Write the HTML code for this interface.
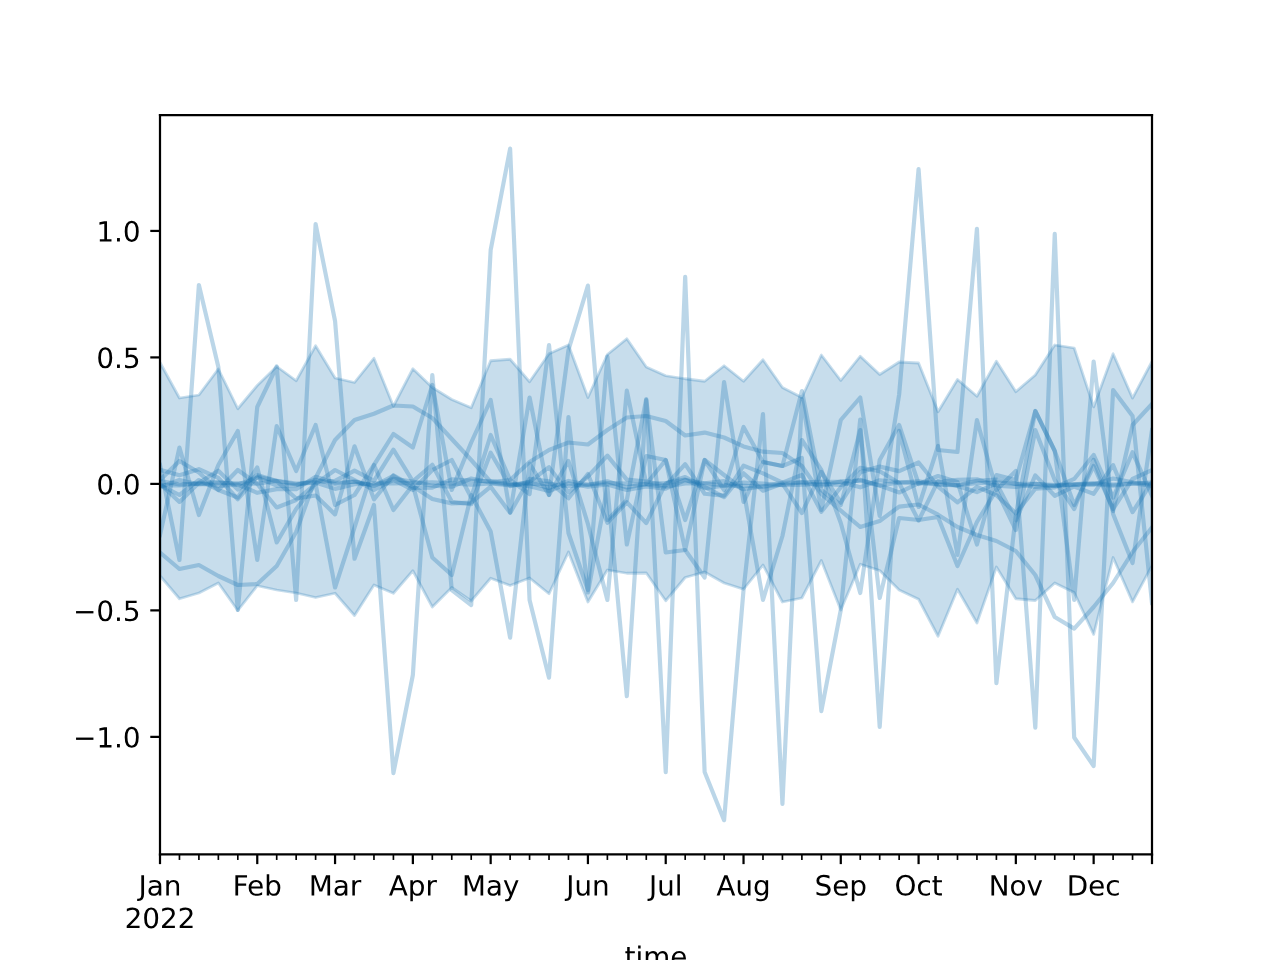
<!DOCTYPE html>
<html><head><meta charset="utf-8"><style>html,body{margin:0;padding:0;background:#fff;width:1280px;height:960px;overflow:hidden;font-family:"Liberation Sans",sans-serif}svg{display:block}</style></head><body>
<svg width="1280" height="960" viewBox="0 0 460.8 345.6" version="1.1">
 
 <defs>
  <style type="text/css">*{stroke-linejoin: round; stroke-linecap: butt}</style>
 </defs>
 <g id="figure_1">
  <g id="patch_1">
   <path d="M 0 345.6 
L 460.8 345.6 
L 460.8 0 
L 0 0 
z
" style="fill: #ffffff"/>
  </g>
  <g id="axes_1">
   <g id="patch_2">
    <path d="M 57.6 307.584 
L 414.72 307.584 
L 414.72 41.472 
L 57.6 41.472 
z
" style="fill: #ffffff"/>
   </g>
   <g id="FillBetweenPolyCollection_1">
    <defs>
     <path id="me07faa9266" d="M 57.6 -215.1 
L 57.6 -138.33 
L 64.602353 -130.05 
L 71.604706 -132.12 
L 78.607059 -135.72 
L 85.609412 -125.82 
L 92.611765 -134.73 
L 99.614118 -133.2 
L 106.616471 -132.12 
L 113.618824 -130.5 
L 120.621176 -132.03 
L 127.623529 -124.02 
L 134.625882 -135 
L 141.628235 -132.03 
L 148.630588 -140.13 
L 155.632941 -127.08 
L 162.635294 -134.1 
L 169.637647 -129.24 
L 176.64 -137.43 
L 183.642353 -134.82 
L 190.644706 -137.52 
L 197.647059 -131.85 
L 204.649412 -146.88 
L 211.651765 -128.88 
L 218.654118 -140.4 
L 225.656471 -139.23 
L 232.658824 -139.32 
L 239.661176 -129.33 
L 246.663529 -137.7 
L 253.665882 -139.68 
L 260.668235 -135.72 
L 267.670588 -133.47 
L 274.672941 -142.2 
L 281.675294 -128.88 
L 288.677647 -130.32 
L 295.68 -143.82 
L 302.682353 -126 
L 309.684706 -142.47 
L 316.687059 -140.22 
L 323.689412 -133.2 
L 330.691765 -129.87 
L 337.694118 -116.55 
L 344.696471 -133.47 
L 351.698824 -121.32 
L 358.701176 -141.48 
L 365.703529 -130.05 
L 372.705882 -129.42 
L 379.708235 -135.72 
L 386.710588 -132.3 
L 393.712941 -117.216 
L 400.715294 -144.9 
L 407.717647 -128.916 
L 414.72 -141.984 
L 414.72 -215.46 
L 414.72 -215.46 
L 407.717647 -202.284 
L 400.715294 -218.25 
L 393.712941 -199.116 
L 386.710588 -220.32 
L 379.708235 -221.4 
L 372.705882 -210.6 
L 365.703529 -204.552 
L 358.701176 -215.55 
L 351.698824 -202.95 
L 344.696471 -208.98 
L 337.694118 -197.37 
L 330.691765 -214.92 
L 323.689412 -215.28 
L 316.687059 -210.78 
L 309.684706 -217.35 
L 302.682353 -208.62 
L 295.68 -217.8 
L 288.677647 -202.5 
L 281.675294 -206.1 
L 274.672941 -216.09 
L 267.670588 -208.35 
L 260.668235 -213.93 
L 253.665882 -208.35 
L 246.663529 -209.25 
L 239.661176 -210.33 
L 232.658824 -213.48 
L 225.656471 -223.65 
L 218.654118 -217.98 
L 211.651765 -202.5 
L 204.649412 -221.4 
L 197.647059 -218.25 
L 190.644706 -208.17 
L 183.642353 -216.27 
L 176.64 -215.73 
L 169.637647 -198.81 
L 162.635294 -201.78 
L 155.632941 -206.1 
L 148.630588 -212.85 
L 141.628235 -199.35 
L 134.625882 -216.63 
L 127.623529 -207.9 
L 120.621176 -209.52 
L 113.618824 -221.13 
L 106.616471 -208.53 
L 99.614118 -213.66 
L 92.611765 -206.82 
L 85.609412 -198.45 
L 78.607059 -212.76 
L 71.604706 -203.4 
L 64.602353 -202.32 
L 57.6 -215.1 
z
" style="stroke: #1f77b4; stroke-opacity: 0.25"/>
    </defs>
    <g clip-path="url(#pd8968b9efc)">
     <use href="#me07faa9266" x="0" y="345.6" style="fill: #1f77b4; fill-opacity: 0.25; stroke: #1f77b4; stroke-opacity: 0.25"/>
    </g>
   </g>
   <g id="matplotlib.axis_1">
    <g id="xtick_1">
     <g id="line2d_1">
      <defs>
       <path id="mba14ccbb5c" d="M 0 0 
L 0 3.5 
" style="stroke: #000000; stroke-width: 0.8"/>
      </defs>
      <g>
       <use href="#mba14ccbb5c" x="57.6" y="307.584" style="stroke: #000000; stroke-width: 0.8"/>
      </g>
     </g>
     <g id="text_1">
      <!-- Jan -->
      <g transform="translate(49.892187 322.362437) scale(0.1 -0.1)">
       <defs>
        <path id="DejaVuSans-4a" d="M 628 4666 
L 1259 4666 
L 1259 325 
Q 1259 -519 939 -900 
Q 619 -1281 -91 -1281 
L -331 -1281 
L -331 -750 
L -134 -750 
Q 284 -750 456 -515 
Q 628 -281 628 325 
L 628 4666 
z
" transform="scale(0.015625)"/>
        <path id="DejaVuSans-61" d="M 2194 1759 
Q 1497 1759 1228 1600 
Q 959 1441 959 1056 
Q 959 750 1161 570 
Q 1363 391 1709 391 
Q 2188 391 2477 730 
Q 2766 1069 2766 1631 
L 2766 1759 
L 2194 1759 
z
M 3341 1997 
L 3341 0 
L 2766 0 
L 2766 531 
Q 2569 213 2275 61 
Q 1981 -91 1556 -91 
Q 1019 -91 701 211 
Q 384 513 384 1019 
Q 384 1609 779 1909 
Q 1175 2209 1959 2209 
L 2766 2209 
L 2766 2266 
Q 2766 2663 2505 2880 
Q 2244 3097 1772 3097 
Q 1472 3097 1187 3025 
Q 903 2953 641 2809 
L 641 3341 
Q 956 3463 1253 3523 
Q 1550 3584 1831 3584 
Q 2591 3584 2966 3190 
Q 3341 2797 3341 1997 
z
" transform="scale(0.015625)"/>
        <path id="DejaVuSans-6e" d="M 3513 2113 
L 3513 0 
L 2938 0 
L 2938 2094 
Q 2938 2591 2744 2837 
Q 2550 3084 2163 3084 
Q 1697 3084 1428 2787 
Q 1159 2491 1159 1978 
L 1159 0 
L 581 0 
L 581 3500 
L 1159 3500 
L 1159 2956 
Q 1366 3272 1645 3428 
Q 1925 3584 2291 3584 
Q 2894 3584 3203 3211 
Q 3513 2838 3513 2113 
z
" transform="scale(0.015625)"/>
       </defs>
       <use href="#DejaVuSans-4a"/>
       <use href="#DejaVuSans-61" transform="translate(29.492188 0)"/>
       <use href="#DejaVuSans-6e" transform="translate(90.771484 0)"/>
      </g>
      <!-- 2022 -->
      <g transform="translate(44.875 334.100250) scale(0.1 -0.1)">
       <defs>
        <path id="DejaVuSans-32" d="M 1228 531 
L 3431 531 
L 3431 0 
L 469 0 
L 469 531 
Q 828 903 1448 1529 
Q 2069 2156 2228 2338 
Q 2531 2678 2651 2914 
Q 2772 3150 2772 3378 
Q 2772 3750 2511 3984 
Q 2250 4219 1831 4219 
Q 1534 4219 1204 4116 
Q 875 4013 500 3803 
L 500 4441 
Q 881 4594 1212 4672 
Q 1544 4750 1819 4750 
Q 2544 4750 2975 4387 
Q 3406 4025 3406 3419 
Q 3406 3131 3298 2873 
Q 3191 2616 2906 2266 
Q 2828 2175 2409 1742 
Q 1991 1309 1228 531 
z
" transform="scale(0.015625)"/>
        <path id="DejaVuSans-30" d="M 2034 4250 
Q 1547 4250 1301 3770 
Q 1056 3291 1056 2328 
Q 1056 1369 1301 889 
Q 1547 409 2034 409 
Q 2525 409 2770 889 
Q 3016 1369 3016 2328 
Q 3016 3291 2770 3770 
Q 2525 4250 2034 4250 
z
M 2034 4750 
Q 2819 4750 3233 4129 
Q 3647 3509 3647 2328 
Q 3647 1150 3233 529 
Q 2819 -91 2034 -91 
Q 1250 -91 836 529 
Q 422 1150 422 2328 
Q 422 3509 836 4129 
Q 1250 4750 2034 4750 
z
" transform="scale(0.015625)"/>
       </defs>
       <use href="#DejaVuSans-32"/>
       <use href="#DejaVuSans-30" transform="translate(63.623047 0)"/>
       <use href="#DejaVuSans-32" transform="translate(127.246094 0)"/>
       <use href="#DejaVuSans-32" transform="translate(190.869141 0)"/>
      </g>
     </g>
    </g>
    <g id="xtick_2">
     <g id="line2d_2">
      <g>
       <use href="#mba14ccbb5c" x="92.611765" y="307.584" style="stroke: #000000; stroke-width: 0.8"/>
      </g>
     </g>
     <g id="text_2">
      <!-- Feb -->
      <g transform="translate(83.760202 322.362437) scale(0.1 -0.1)">
       <defs>
        <path id="DejaVuSans-46" d="M 628 4666 
L 3309 4666 
L 3309 4134 
L 1259 4134 
L 1259 2759 
L 3109 2759 
L 3109 2228 
L 1259 2228 
L 1259 0 
L 628 0 
L 628 4666 
z
" transform="scale(0.015625)"/>
        <path id="DejaVuSans-65" d="M 3597 1894 
L 3597 1613 
L 953 1613 
Q 991 1019 1311 708 
Q 1631 397 2203 397 
Q 2534 397 2845 478 
Q 3156 559 3463 722 
L 3463 178 
Q 3153 47 2828 -22 
Q 2503 -91 2169 -91 
Q 1331 -91 842 396 
Q 353 884 353 1716 
Q 353 2575 817 3079 
Q 1281 3584 2069 3584 
Q 2775 3584 3186 3129 
Q 3597 2675 3597 1894 
z
M 3022 2063 
Q 3016 2534 2758 2815 
Q 2500 3097 2075 3097 
Q 1594 3097 1305 2825 
Q 1016 2553 972 2059 
L 3022 2063 
z
" transform="scale(0.015625)"/>
        <path id="DejaVuSans-62" d="M 3116 1747 
Q 3116 2381 2855 2742 
Q 2594 3103 2138 3103 
Q 1681 3103 1420 2742 
Q 1159 2381 1159 1747 
Q 1159 1113 1420 752 
Q 1681 391 2138 391 
Q 2594 391 2855 752 
Q 3116 1113 3116 1747 
z
M 1159 2969 
Q 1341 3281 1617 3432 
Q 1894 3584 2278 3584 
Q 2916 3584 3314 3078 
Q 3713 2572 3713 1747 
Q 3713 922 3314 415 
Q 2916 -91 2278 -91 
Q 1894 -91 1617 61 
Q 1341 213 1159 525 
L 1159 0 
L 581 0 
L 581 4863 
L 1159 4863 
L 1159 2969 
z
" transform="scale(0.015625)"/>
       </defs>
       <use href="#DejaVuSans-46"/>
       <use href="#DejaVuSans-65" transform="translate(52.019531 0)"/>
       <use href="#DejaVuSans-62" transform="translate(113.542969 0)"/>
      </g>
     </g>
    </g>
    <g id="xtick_3">
     <g id="line2d_3">
      <g>
       <use href="#mba14ccbb5c" x="120.621176" y="307.584" style="stroke: #000000; stroke-width: 0.8"/>
      </g>
     </g>
     <g id="text_3">
      <!-- Mar -->
      <g transform="translate(111.187583 322.362437) scale(0.1 -0.1)">
       <defs>
        <path id="DejaVuSans-4d" d="M 628 4666 
L 1569 4666 
L 2759 1491 
L 3956 4666 
L 4897 4666 
L 4897 0 
L 4281 0 
L 4281 4097 
L 3078 897 
L 2444 897 
L 1241 4097 
L 1241 0 
L 628 0 
L 628 4666 
z
" transform="scale(0.015625)"/>
        <path id="DejaVuSans-72" d="M 2631 2963 
Q 2534 3019 2420 3045 
Q 2306 3072 2169 3072 
Q 1681 3072 1420 2755 
Q 1159 2438 1159 1844 
L 1159 0 
L 581 0 
L 581 3500 
L 1159 3500 
L 1159 2956 
Q 1341 3275 1631 3429 
Q 1922 3584 2338 3584 
Q 2397 3584 2469 3576 
Q 2541 3569 2628 3553 
L 2631 2963 
z
" transform="scale(0.015625)"/>
       </defs>
       <use href="#DejaVuSans-4d"/>
       <use href="#DejaVuSans-61" transform="translate(86.279297 0)"/>
       <use href="#DejaVuSans-72" transform="translate(147.558594 0)"/>
      </g>
     </g>
    </g>
    <g id="xtick_4">
     <g id="line2d_4">
      <g>
       <use href="#mba14ccbb5c" x="148.630588" y="307.584" style="stroke: #000000; stroke-width: 0.8"/>
      </g>
     </g>
     <g id="text_4">
      <!-- Apr -->
      <g transform="translate(139.980588 322.362437) scale(0.1 -0.1)">
       <defs>
        <path id="DejaVuSans-41" d="M 2188 4044 
L 1331 1722 
L 3047 1722 
L 2188 4044 
z
M 1831 4666 
L 2547 4666 
L 4325 0 
L 3669 0 
L 3244 1197 
L 1141 1197 
L 716 0 
L 50 0 
L 1831 4666 
z
" transform="scale(0.015625)"/>
        <path id="DejaVuSans-70" d="M 1159 525 
L 1159 -1331 
L 581 -1331 
L 581 3500 
L 1159 3500 
L 1159 2969 
Q 1341 3281 1617 3432 
Q 1894 3584 2278 3584 
Q 2916 3584 3314 3078 
Q 3713 2572 3713 1747 
Q 3713 922 3314 415 
Q 2916 -91 2278 -91 
Q 1894 -91 1617 61 
Q 1341 213 1159 525 
z
M 3116 1747 
Q 3116 2381 2855 2742 
Q 2594 3103 2138 3103 
Q 1681 3103 1420 2742 
Q 1159 2381 1159 1747 
Q 1159 1113 1420 752 
Q 1681 391 2138 391 
Q 2594 391 2855 752 
Q 3116 1113 3116 1747 
z
" transform="scale(0.015625)"/>
       </defs>
       <use href="#DejaVuSans-41"/>
       <use href="#DejaVuSans-70" transform="translate(68.408203 0)"/>
       <use href="#DejaVuSans-72" transform="translate(131.884766 0)"/>
      </g>
     </g>
    </g>
    <g id="xtick_5">
     <g id="line2d_5">
      <g>
       <use href="#mba14ccbb5c" x="176.64" y="307.584" style="stroke: #000000; stroke-width: 0.8"/>
      </g>
     </g>
     <g id="text_5">
      <!-- May -->
      <g transform="translate(166.3025 322.362437) scale(0.1 -0.1)">
       <defs>
        <path id="DejaVuSans-79" d="M 2059 -325 
Q 1816 -950 1584 -1140 
Q 1353 -1331 966 -1331 
L 506 -1331 
L 506 -850 
L 844 -850 
Q 1081 -850 1212 -737 
Q 1344 -625 1503 -206 
L 1606 56 
L 191 3500 
L 800 3500 
L 1894 763 
L 2988 3500 
L 3597 3500 
L 2059 -325 
z
" transform="scale(0.015625)"/>
       </defs>
       <use href="#DejaVuSans-4d"/>
       <use href="#DejaVuSans-61" transform="translate(86.279297 0)"/>
       <use href="#DejaVuSans-79" transform="translate(147.558594 0)"/>
      </g>
     </g>
    </g>
    <g id="xtick_6">
     <g id="line2d_6">
      <g>
       <use href="#mba14ccbb5c" x="211.651765" y="307.584" style="stroke: #000000; stroke-width: 0.8"/>
      </g>
     </g>
     <g id="text_6">
      <!-- Jun -->
      <g transform="translate(203.839265 322.362437) scale(0.1 -0.1)">
       <defs>
        <path id="DejaVuSans-75" d="M 544 1381 
L 544 3500 
L 1119 3500 
L 1119 1403 
Q 1119 906 1312 657 
Q 1506 409 1894 409 
Q 2359 409 2629 706 
Q 2900 1003 2900 1516 
L 2900 3500 
L 3475 3500 
L 3475 0 
L 2900 0 
L 2900 538 
Q 2691 219 2414 64 
Q 2138 -91 1772 -91 
Q 1169 -91 856 284 
Q 544 659 544 1381 
z
M 1991 3584 
L 1991 3584 
z
" transform="scale(0.015625)"/>
       </defs>
       <use href="#DejaVuSans-4a"/>
       <use href="#DejaVuSans-75" transform="translate(29.492188 0)"/>
       <use href="#DejaVuSans-6e" transform="translate(92.871094 0)"/>
      </g>
     </g>
    </g>
    <g id="xtick_7">
     <g id="line2d_7">
      <g>
       <use href="#mba14ccbb5c" x="239.661176" y="307.584" style="stroke: #000000; stroke-width: 0.8"/>
      </g>
     </g>
     <g id="text_7">
      <!-- Jul -->
      <g transform="translate(233.628364 322.362437) scale(0.1 -0.1)">
       <defs>
        <path id="DejaVuSans-6c" d="M 603 4863 
L 1178 4863 
L 1178 0 
L 603 0 
L 603 4863 
z
" transform="scale(0.015625)"/>
       </defs>
       <use href="#DejaVuSans-4a"/>
       <use href="#DejaVuSans-75" transform="translate(29.492188 0)"/>
       <use href="#DejaVuSans-6c" transform="translate(92.871094 0)"/>
      </g>
     </g>
    </g>
    <g id="xtick_8">
     <g id="line2d_8">
      <g>
       <use href="#mba14ccbb5c" x="267.670588" y="307.584" style="stroke: #000000; stroke-width: 0.8"/>
      </g>
     </g>
     <g id="text_8">
      <!-- Aug -->
      <g transform="translate(257.907307 322.362437) scale(0.1 -0.1)">
       <defs>
        <path id="DejaVuSans-67" d="M 2906 1791 
Q 2906 2416 2648 2759 
Q 2391 3103 1925 3103 
Q 1463 3103 1205 2759 
Q 947 2416 947 1791 
Q 947 1169 1205 825 
Q 1463 481 1925 481 
Q 2391 481 2648 825 
Q 2906 1169 2906 1791 
z
M 3481 434 
Q 3481 -459 3084 -895 
Q 2688 -1331 1869 -1331 
Q 1566 -1331 1297 -1286 
Q 1028 -1241 775 -1147 
L 775 -588 
Q 1028 -725 1275 -790 
Q 1522 -856 1778 -856 
Q 2344 -856 2625 -561 
Q 2906 -266 2906 331 
L 2906 616 
Q 2728 306 2450 153 
Q 2172 0 1784 0 
Q 1141 0 747 490 
Q 353 981 353 1791 
Q 353 2603 747 3093 
Q 1141 3584 1784 3584 
Q 2172 3584 2450 3431 
Q 2728 3278 2906 2969 
L 2906 3500 
L 3481 3500 
L 3481 434 
z
" transform="scale(0.015625)"/>
       </defs>
       <use href="#DejaVuSans-41"/>
       <use href="#DejaVuSans-75" transform="translate(68.408203 0)"/>
       <use href="#DejaVuSans-67" transform="translate(131.787109 0)"/>
      </g>
     </g>
    </g>
    <g id="xtick_9">
     <g id="line2d_9">
      <g>
       <use href="#mba14ccbb5c" x="302.682353" y="307.584" style="stroke: #000000; stroke-width: 0.8"/>
      </g>
     </g>
     <g id="text_9">
      <!-- Sep -->
      <g transform="translate(293.257353 322.362437) scale(0.1 -0.1)">
       <defs>
        <path id="DejaVuSans-53" d="M 3425 4513 
L 3425 3897 
Q 3066 4069 2747 4153 
Q 2428 4238 2131 4238 
Q 1616 4238 1336 4038 
Q 1056 3838 1056 3469 
Q 1056 3159 1242 3001 
Q 1428 2844 1947 2747 
L 2328 2669 
Q 3034 2534 3370 2195 
Q 3706 1856 3706 1288 
Q 3706 609 3251 259 
Q 2797 -91 1919 -91 
Q 1588 -91 1214 -16 
Q 841 59 441 206 
L 441 856 
Q 825 641 1194 531 
Q 1563 422 1919 422 
Q 2459 422 2753 634 
Q 3047 847 3047 1241 
Q 3047 1584 2836 1778 
Q 2625 1972 2144 2069 
L 1759 2144 
Q 1053 2284 737 2584 
Q 422 2884 422 3419 
Q 422 4038 858 4394 
Q 1294 4750 2059 4750 
Q 2388 4750 2728 4690 
Q 3069 4631 3425 4513 
z
" transform="scale(0.015625)"/>
       </defs>
       <use href="#DejaVuSans-53"/>
       <use href="#DejaVuSans-65" transform="translate(63.476562 0)"/>
       <use href="#DejaVuSans-70" transform="translate(125 0)"/>
      </g>
     </g>
    </g>
    <g id="xtick_10">
     <g id="line2d_10">
      <g>
       <use href="#mba14ccbb5c" x="330.691765" y="307.584" style="stroke: #000000; stroke-width: 0.8"/>
      </g>
     </g>
     <g id="text_10">
      <!-- Oct -->
      <g transform="translate(322.046452 322.362437) scale(0.1 -0.1)">
       <defs>
        <path id="DejaVuSans-4f" d="M 2522 4238 
Q 1834 4238 1429 3725 
Q 1025 3213 1025 2328 
Q 1025 1447 1429 934 
Q 1834 422 2522 422 
Q 3209 422 3611 934 
Q 4013 1447 4013 2328 
Q 4013 3213 3611 3725 
Q 3209 4238 2522 4238 
z
M 2522 4750 
Q 3503 4750 4090 4092 
Q 4678 3434 4678 2328 
Q 4678 1225 4090 567 
Q 3503 -91 2522 -91 
Q 1538 -91 948 565 
Q 359 1222 359 2328 
Q 359 3434 948 4092 
Q 1538 4750 2522 4750 
z
" transform="scale(0.015625)"/>
        <path id="DejaVuSans-63" d="M 3122 3366 
L 3122 2828 
Q 2878 2963 2633 3030 
Q 2388 3097 2138 3097 
Q 1578 3097 1268 2742 
Q 959 2388 959 1747 
Q 959 1106 1268 751 
Q 1578 397 2138 397 
Q 2388 397 2633 464 
Q 2878 531 3122 666 
L 3122 134 
Q 2881 22 2623 -34 
Q 2366 -91 2075 -91 
Q 1284 -91 818 406 
Q 353 903 353 1747 
Q 353 2603 823 3093 
Q 1294 3584 2113 3584 
Q 2378 3584 2631 3529 
Q 2884 3475 3122 3366 
z
" transform="scale(0.015625)"/>
        <path id="DejaVuSans-74" d="M 1172 4494 
L 1172 3500 
L 2356 3500 
L 2356 3053 
L 1172 3053 
L 1172 1153 
Q 1172 725 1289 603 
Q 1406 481 1766 481 
L 2356 481 
L 2356 0 
L 1766 0 
Q 1100 0 847 248 
Q 594 497 594 1153 
L 594 3053 
L 172 3053 
L 172 3500 
L 594 3500 
L 594 4494 
L 1172 4494 
z
" transform="scale(0.015625)"/>
       </defs>
       <use href="#DejaVuSans-4f"/>
       <use href="#DejaVuSans-63" transform="translate(78.710938 0)"/>
       <use href="#DejaVuSans-74" transform="translate(133.691406 0)"/>
      </g>
     </g>
    </g>
    <g id="xtick_11">
     <g id="line2d_11">
      <g>
       <use href="#mba14ccbb5c" x="365.703529" y="307.584" style="stroke: #000000; stroke-width: 0.8"/>
      </g>
     </g>
     <g id="text_11">
      <!-- Nov -->
      <g transform="translate(355.944154 322.362437) scale(0.1 -0.1)">
       <defs>
        <path id="DejaVuSans-4e" d="M 628 4666 
L 1478 4666 
L 3547 763 
L 3547 4666 
L 4159 4666 
L 4159 0 
L 3309 0 
L 1241 3903 
L 1241 0 
L 628 0 
L 628 4666 
z
" transform="scale(0.015625)"/>
        <path id="DejaVuSans-6f" d="M 1959 3097 
Q 1497 3097 1228 2736 
Q 959 2375 959 1747 
Q 959 1119 1226 758 
Q 1494 397 1959 397 
Q 2419 397 2687 759 
Q 2956 1122 2956 1747 
Q 2956 2369 2687 2733 
Q 2419 3097 1959 3097 
z
M 1959 3584 
Q 2709 3584 3137 3096 
Q 3566 2609 3566 1747 
Q 3566 888 3137 398 
Q 2709 -91 1959 -91 
Q 1206 -91 779 398 
Q 353 888 353 1747 
Q 353 2609 779 3096 
Q 1206 3584 1959 3584 
z
" transform="scale(0.015625)"/>
        <path id="DejaVuSans-76" d="M 191 3500 
L 800 3500 
L 1894 563 
L 2988 3500 
L 3597 3500 
L 2284 0 
L 1503 0 
L 191 3500 
z
" transform="scale(0.015625)"/>
       </defs>
       <use href="#DejaVuSans-4e"/>
       <use href="#DejaVuSans-6f" transform="translate(74.804688 0)"/>
       <use href="#DejaVuSans-76" transform="translate(135.986328 0)"/>
      </g>
     </g>
    </g>
    <g id="xtick_12">
     <g id="line2d_12">
      <g>
       <use href="#mba14ccbb5c" x="393.712941" y="307.584" style="stroke: #000000; stroke-width: 0.8"/>
      </g>
     </g>
     <g id="text_12">
      <!-- Dec -->
      <g transform="translate(384.03716 322.362437) scale(0.1 -0.1)">
       <defs>
        <path id="DejaVuSans-44" d="M 1259 4147 
L 1259 519 
L 2022 519 
Q 2988 519 3436 956 
Q 3884 1394 3884 2338 
Q 3884 3275 3436 3711 
Q 2988 4147 2022 4147 
L 1259 4147 
z
M 628 4666 
L 1925 4666 
Q 3281 4666 3915 4102 
Q 4550 3538 4550 2338 
Q 4550 1131 3912 565 
Q 3275 0 1925 0 
L 628 0 
L 628 4666 
z
" transform="scale(0.015625)"/>
       </defs>
       <use href="#DejaVuSans-44"/>
       <use href="#DejaVuSans-65" transform="translate(77.001953 0)"/>
       <use href="#DejaVuSans-63" transform="translate(138.525391 0)"/>
      </g>
     </g>
    </g>
    <g id="xtick_13">
     <g id="line2d_13">
      <g>
       <use href="#mba14ccbb5c" x="414.72" y="307.584" style="stroke: #000000; stroke-width: 0.8"/>
      </g>
     </g>
    </g>
    <g id="xtick_14">
     <g id="line2d_14">
      <defs>
       <path id="me7f62219b8" d="M 0 0 
L 0 2 
" style="stroke: #000000; stroke-width: 0.6"/>
      </defs>
      <g>
       <use href="#me7f62219b8" x="64.602353" y="307.584" style="stroke: #000000; stroke-width: 0.6"/>
      </g>
     </g>
    </g>
    <g id="xtick_15">
     <g id="line2d_15">
      <g>
       <use href="#me7f62219b8" x="71.604706" y="307.584" style="stroke: #000000; stroke-width: 0.6"/>
      </g>
     </g>
    </g>
    <g id="xtick_16">
     <g id="line2d_16">
      <g>
       <use href="#me7f62219b8" x="78.607059" y="307.584" style="stroke: #000000; stroke-width: 0.6"/>
      </g>
     </g>
    </g>
    <g id="xtick_17">
     <g id="line2d_17">
      <g>
       <use href="#me7f62219b8" x="85.609412" y="307.584" style="stroke: #000000; stroke-width: 0.6"/>
      </g>
     </g>
    </g>
    <g id="xtick_18">
     <g id="line2d_18">
      <g>
       <use href="#me7f62219b8" x="99.614118" y="307.584" style="stroke: #000000; stroke-width: 0.6"/>
      </g>
     </g>
    </g>
    <g id="xtick_19">
     <g id="line2d_19">
      <g>
       <use href="#me7f62219b8" x="106.616471" y="307.584" style="stroke: #000000; stroke-width: 0.6"/>
      </g>
     </g>
    </g>
    <g id="xtick_20">
     <g id="line2d_20">
      <g>
       <use href="#me7f62219b8" x="113.618824" y="307.584" style="stroke: #000000; stroke-width: 0.6"/>
      </g>
     </g>
    </g>
    <g id="xtick_21">
     <g id="line2d_21">
      <g>
       <use href="#me7f62219b8" x="127.623529" y="307.584" style="stroke: #000000; stroke-width: 0.6"/>
      </g>
     </g>
    </g>
    <g id="xtick_22">
     <g id="line2d_22">
      <g>
       <use href="#me7f62219b8" x="134.625882" y="307.584" style="stroke: #000000; stroke-width: 0.6"/>
      </g>
     </g>
    </g>
    <g id="xtick_23">
     <g id="line2d_23">
      <g>
       <use href="#me7f62219b8" x="141.628235" y="307.584" style="stroke: #000000; stroke-width: 0.6"/>
      </g>
     </g>
    </g>
    <g id="xtick_24">
     <g id="line2d_24">
      <g>
       <use href="#me7f62219b8" x="155.632941" y="307.584" style="stroke: #000000; stroke-width: 0.6"/>
      </g>
     </g>
    </g>
    <g id="xtick_25">
     <g id="line2d_25">
      <g>
       <use href="#me7f62219b8" x="162.635294" y="307.584" style="stroke: #000000; stroke-width: 0.6"/>
      </g>
     </g>
    </g>
    <g id="xtick_26">
     <g id="line2d_26">
      <g>
       <use href="#me7f62219b8" x="169.637647" y="307.584" style="stroke: #000000; stroke-width: 0.6"/>
      </g>
     </g>
    </g>
    <g id="xtick_27">
     <g id="line2d_27">
      <g>
       <use href="#me7f62219b8" x="183.642353" y="307.584" style="stroke: #000000; stroke-width: 0.6"/>
      </g>
     </g>
    </g>
    <g id="xtick_28">
     <g id="line2d_28">
      <g>
       <use href="#me7f62219b8" x="190.644706" y="307.584" style="stroke: #000000; stroke-width: 0.6"/>
      </g>
     </g>
    </g>
    <g id="xtick_29">
     <g id="line2d_29">
      <g>
       <use href="#me7f62219b8" x="197.647059" y="307.584" style="stroke: #000000; stroke-width: 0.6"/>
      </g>
     </g>
    </g>
    <g id="xtick_30">
     <g id="line2d_30">
      <g>
       <use href="#me7f62219b8" x="204.649412" y="307.584" style="stroke: #000000; stroke-width: 0.6"/>
      </g>
     </g>
    </g>
    <g id="xtick_31">
     <g id="line2d_31">
      <g>
       <use href="#me7f62219b8" x="218.654118" y="307.584" style="stroke: #000000; stroke-width: 0.6"/>
      </g>
     </g>
    </g>
    <g id="xtick_32">
     <g id="line2d_32">
      <g>
       <use href="#me7f62219b8" x="225.656471" y="307.584" style="stroke: #000000; stroke-width: 0.6"/>
      </g>
     </g>
    </g>
    <g id="xtick_33">
     <g id="line2d_33">
      <g>
       <use href="#me7f62219b8" x="232.658824" y="307.584" style="stroke: #000000; stroke-width: 0.6"/>
      </g>
     </g>
    </g>
    <g id="xtick_34">
     <g id="line2d_34">
      <g>
       <use href="#me7f62219b8" x="246.663529" y="307.584" style="stroke: #000000; stroke-width: 0.6"/>
      </g>
     </g>
    </g>
    <g id="xtick_35">
     <g id="line2d_35">
      <g>
       <use href="#me7f62219b8" x="253.665882" y="307.584" style="stroke: #000000; stroke-width: 0.6"/>
      </g>
     </g>
    </g>
    <g id="xtick_36">
     <g id="line2d_36">
      <g>
       <use href="#me7f62219b8" x="260.668235" y="307.584" style="stroke: #000000; stroke-width: 0.6"/>
      </g>
     </g>
    </g>
    <g id="xtick_37">
     <g id="line2d_37">
      <g>
       <use href="#me7f62219b8" x="274.672941" y="307.584" style="stroke: #000000; stroke-width: 0.6"/>
      </g>
     </g>
    </g>
    <g id="xtick_38">
     <g id="line2d_38">
      <g>
       <use href="#me7f62219b8" x="281.675294" y="307.584" style="stroke: #000000; stroke-width: 0.6"/>
      </g>
     </g>
    </g>
    <g id="xtick_39">
     <g id="line2d_39">
      <g>
       <use href="#me7f62219b8" x="288.677647" y="307.584" style="stroke: #000000; stroke-width: 0.6"/>
      </g>
     </g>
    </g>
    <g id="xtick_40">
     <g id="line2d_40">
      <g>
       <use href="#me7f62219b8" x="295.68" y="307.584" style="stroke: #000000; stroke-width: 0.6"/>
      </g>
     </g>
    </g>
    <g id="xtick_41">
     <g id="line2d_41">
      <g>
       <use href="#me7f62219b8" x="309.684706" y="307.584" style="stroke: #000000; stroke-width: 0.6"/>
      </g>
     </g>
    </g>
    <g id="xtick_42">
     <g id="line2d_42">
      <g>
       <use href="#me7f62219b8" x="316.687059" y="307.584" style="stroke: #000000; stroke-width: 0.6"/>
      </g>
     </g>
    </g>
    <g id="xtick_43">
     <g id="line2d_43">
      <g>
       <use href="#me7f62219b8" x="323.689412" y="307.584" style="stroke: #000000; stroke-width: 0.6"/>
      </g>
     </g>
    </g>
    <g id="xtick_44">
     <g id="line2d_44">
      <g>
       <use href="#me7f62219b8" x="337.694118" y="307.584" style="stroke: #000000; stroke-width: 0.6"/>
      </g>
     </g>
    </g>
    <g id="xtick_45">
     <g id="line2d_45">
      <g>
       <use href="#me7f62219b8" x="344.696471" y="307.584" style="stroke: #000000; stroke-width: 0.6"/>
      </g>
     </g>
    </g>
    <g id="xtick_46">
     <g id="line2d_46">
      <g>
       <use href="#me7f62219b8" x="351.698824" y="307.584" style="stroke: #000000; stroke-width: 0.6"/>
      </g>
     </g>
    </g>
    <g id="xtick_47">
     <g id="line2d_47">
      <g>
       <use href="#me7f62219b8" x="358.701176" y="307.584" style="stroke: #000000; stroke-width: 0.6"/>
      </g>
     </g>
    </g>
    <g id="xtick_48">
     <g id="line2d_48">
      <g>
       <use href="#me7f62219b8" x="372.705882" y="307.584" style="stroke: #000000; stroke-width: 0.6"/>
      </g>
     </g>
    </g>
    <g id="xtick_49">
     <g id="line2d_49">
      <g>
       <use href="#me7f62219b8" x="379.708235" y="307.584" style="stroke: #000000; stroke-width: 0.6"/>
      </g>
     </g>
    </g>
    <g id="xtick_50">
     <g id="line2d_50">
      <g>
       <use href="#me7f62219b8" x="386.710588" y="307.584" style="stroke: #000000; stroke-width: 0.6"/>
      </g>
     </g>
    </g>
    <g id="xtick_51">
     <g id="line2d_51">
      <g>
       <use href="#me7f62219b8" x="400.715294" y="307.584" style="stroke: #000000; stroke-width: 0.6"/>
      </g>
     </g>
    </g>
    <g id="xtick_52">
     <g id="line2d_52">
      <g>
       <use href="#me7f62219b8" x="407.717647" y="307.584" style="stroke: #000000; stroke-width: 0.6"/>
      </g>
     </g>
    </g>
    <g id="text_13">
     <!-- time -->
     <g transform="translate(224.863906 347.958375) scale(0.1 -0.1)">
      <defs>
       <path id="DejaVuSans-69" d="M 603 3500 
L 1178 3500 
L 1178 0 
L 603 0 
L 603 3500 
z
M 603 4863 
L 1178 4863 
L 1178 4134 
L 603 4134 
L 603 4863 
z
" transform="scale(0.015625)"/>
       <path id="DejaVuSans-6d" d="M 3328 2828 
Q 3544 3216 3844 3400 
Q 4144 3584 4550 3584 
Q 5097 3584 5394 3201 
Q 5691 2819 5691 2113 
L 5691 0 
L 5113 0 
L 5113 2094 
Q 5113 2597 4934 2840 
Q 4756 3084 4391 3084 
Q 3944 3084 3684 2787 
Q 3425 2491 3425 1978 
L 3425 0 
L 2847 0 
L 2847 2094 
Q 2847 2600 2669 2842 
Q 2491 3084 2119 3084 
Q 1678 3084 1418 2786 
Q 1159 2488 1159 1978 
L 1159 0 
L 581 0 
L 581 3500 
L 1159 3500 
L 1159 2956 
Q 1356 3278 1631 3431 
Q 1906 3584 2284 3584 
Q 2666 3584 2933 3390 
Q 3200 3197 3328 2828 
z
" transform="scale(0.015625)"/>
      </defs>
      <use href="#DejaVuSans-74"/>
      <use href="#DejaVuSans-69" transform="translate(39.208984 0)"/>
      <use href="#DejaVuSans-6d" transform="translate(66.992188 0)"/>
      <use href="#DejaVuSans-65" transform="translate(164.404297 0)"/>
     </g>
    </g>
   </g>
   <g id="matplotlib.axis_2">
    <g id="ytick_1">
     <g id="line2d_53">
      <defs>
       <path id="mc8df9a8492" d="M 0 0 
L -3.5 0 
" style="stroke: #000000; stroke-width: 0.8"/>
      </defs>
      <g>
       <use href="#mc8df9a8492" x="57.6" y="265.2732" style="stroke: #000000; stroke-width: 0.8"/>
      </g>
     </g>
     <g id="text_14">
      <!-- −1.0 -->
      <g transform="translate(26.317187 269.072419) scale(0.1 -0.1)">
       <defs>
        <path id="DejaVuSans-2212" d="M 678 2272 
L 4684 2272 
L 4684 1741 
L 678 1741 
L 678 2272 
z
" transform="scale(0.015625)"/>
        <path id="DejaVuSans-31" d="M 794 531 
L 1825 531 
L 1825 4091 
L 703 3866 
L 703 4441 
L 1819 4666 
L 2450 4666 
L 2450 531 
L 3481 531 
L 3481 0 
L 794 0 
L 794 531 
z
" transform="scale(0.015625)"/>
        <path id="DejaVuSans-2e" d="M 684 794 
L 1344 794 
L 1344 0 
L 684 0 
L 684 794 
z
" transform="scale(0.015625)"/>
       </defs>
       <use href="#DejaVuSans-2212"/>
       <use href="#DejaVuSans-31" transform="translate(83.789062 0)"/>
       <use href="#DejaVuSans-2e" transform="translate(147.412109 0)"/>
       <use href="#DejaVuSans-30" transform="translate(179.199219 0)"/>
      </g>
     </g>
    </g>
    <g id="ytick_2">
     <g id="line2d_54">
      <g>
       <use href="#mc8df9a8492" x="57.6" y="219.7386" style="stroke: #000000; stroke-width: 0.8"/>
      </g>
     </g>
     <g id="text_15">
      <!-- −0.5 -->
      <g transform="translate(26.317187 223.537819) scale(0.1 -0.1)">
       <defs>
        <path id="DejaVuSans-35" d="M 691 4666 
L 3169 4666 
L 3169 4134 
L 1269 4134 
L 1269 2991 
Q 1406 3038 1543 3061 
Q 1681 3084 1819 3084 
Q 2600 3084 3056 2656 
Q 3513 2228 3513 1497 
Q 3513 744 3044 326 
Q 2575 -91 1722 -91 
Q 1428 -91 1123 -41 
Q 819 9 494 109 
L 494 744 
Q 775 591 1075 516 
Q 1375 441 1709 441 
Q 2250 441 2565 725 
Q 2881 1009 2881 1497 
Q 2881 1984 2565 2268 
Q 2250 2553 1709 2553 
Q 1456 2553 1204 2497 
Q 953 2441 691 2322 
L 691 4666 
z
" transform="scale(0.015625)"/>
       </defs>
       <use href="#DejaVuSans-2212"/>
       <use href="#DejaVuSans-30" transform="translate(83.789062 0)"/>
       <use href="#DejaVuSans-2e" transform="translate(147.412109 0)"/>
       <use href="#DejaVuSans-35" transform="translate(179.199219 0)"/>
      </g>
     </g>
    </g>
    <g id="ytick_3">
     <g id="line2d_55">
      <g>
       <use href="#mc8df9a8492" x="57.6" y="174.204" style="stroke: #000000; stroke-width: 0.8"/>
      </g>
     </g>
     <g id="text_16">
      <!-- 0.0 -->
      <g transform="translate(34.696875 178.003219) scale(0.1 -0.1)">
       <use href="#DejaVuSans-30"/>
       <use href="#DejaVuSans-2e" transform="translate(63.623047 0)"/>
       <use href="#DejaVuSans-30" transform="translate(95.410156 0)"/>
      </g>
     </g>
    </g>
    <g id="ytick_4">
     <g id="line2d_56">
      <g>
       <use href="#mc8df9a8492" x="57.6" y="128.6694" style="stroke: #000000; stroke-width: 0.8"/>
      </g>
     </g>
     <g id="text_17">
      <!-- 0.5 -->
      <g transform="translate(34.696875 132.468619) scale(0.1 -0.1)">
       <use href="#DejaVuSans-30"/>
       <use href="#DejaVuSans-2e" transform="translate(63.623047 0)"/>
       <use href="#DejaVuSans-35" transform="translate(95.410156 0)"/>
      </g>
     </g>
    </g>
    <g id="ytick_5">
     <g id="line2d_57">
      <g>
       <use href="#mc8df9a8492" x="57.6" y="83.1348" style="stroke: #000000; stroke-width: 0.8"/>
      </g>
     </g>
     <g id="text_18">
      <!-- 1.0 -->
      <g transform="translate(34.696875 86.934019) scale(0.1 -0.1)">
       <use href="#DejaVuSans-31"/>
       <use href="#DejaVuSans-2e" transform="translate(63.623047 0)"/>
       <use href="#DejaVuSans-30" transform="translate(95.410156 0)"/>
      </g>
     </g>
    </g>
   </g>
   <g id="line2d_58">
    <path d="M 57.6 198.9 
L 64.602353 204.84 
L 71.604706 203.4 
L 78.607059 207.36 
L 85.609412 210.6 
L 92.611765 210.24 
L 99.614118 203.76 
L 106.616471 191.52 
L 113.618824 172.08 
L 120.621176 158.4 
L 127.623529 151.2 
L 134.625882 148.95 
L 141.628235 145.98 
L 148.630588 146.34 
L 155.632941 150.48 
L 162.635294 158.04 
L 169.637647 165.6 
L 176.64 173.52 
L 183.642353 172.8 
L 190.644706 166.32 
L 197.647059 162 
L 204.649412 159.3 
L 211.651765 160.02 
L 218.654118 154.8 
L 225.656471 150.3 
L 232.658824 149.76 
L 239.661176 151.56 
L 246.663529 156.78 
L 253.665882 155.736 
L 260.668235 157.5 
L 267.670588 160.704 
L 274.672941 162.612 
L 281.675294 163.08 
L 288.677647 167.76 
L 295.68 177.84 
L 302.682353 183.816 
L 309.684706 189.72 
L 316.687059 187.56 
L 323.689412 182.376 
L 330.691765 181.62 
L 337.694118 185.292 
L 344.696471 189.72 
L 351.698824 192.6 
L 358.701176 194.76 
L 365.703529 198.36 
L 372.705882 207 
L 379.708235 222.12 
L 386.710588 226.296 
L 393.712941 218.52 
L 400.715294 209.88 
L 407.717647 198.72 
L 414.72 189.9 
" clip-path="url(#pd8968b9efc)" style="fill: none; stroke: #1f77b4; stroke-opacity: 0.3; stroke-width: 1.5; stroke-linecap: square"/>
   </g>
   <g id="line2d_59">
    <path d="M 57.6 167.4 
L 64.602353 201.6 
L 71.604706 102.6 
L 78.607059 132.12 
L 85.609412 219.6 
L 92.611765 146.52 
L 99.614118 131.94 
L 106.616471 216 
L 113.618824 80.64 
L 120.621176 115.56 
L 127.623529 201.15 
L 134.625882 181.8 
L 141.628235 278.352 
L 148.630588 243 
L 155.632941 135 
L 162.635294 212.4 
L 169.637647 217.8 
L 176.64 90 
L 183.642353 53.478 
L 190.644706 216 
L 197.647059 243.972 
L 204.649412 150.12 
L 211.651765 213.3 
L 218.654118 175.32 
L 225.656471 250.632 
L 232.658824 144 
L 239.661176 198.9 
L 246.663529 198 
L 253.665882 207.9 
L 260.668235 137.52 
L 267.670588 180.72 
L 274.672941 166.32 
L 281.675294 167.76 
L 288.677647 164.88 
L 295.68 256.032 
L 302.682353 219.6 
L 309.684706 151.02 
L 316.687059 261.702 
L 323.689412 155.07 
L 330.691765 182.52 
L 337.694118 160.56 
L 344.696471 199.8 
L 351.698824 151.2 
L 358.701176 176.4 
L 365.703529 169.56 
L 372.705882 261.972 
L 379.708235 84.168 
L 386.710588 265.5 
L 393.712941 275.76 
L 400.715294 140.4 
L 407.717647 149.76 
L 414.72 217.08 
" clip-path="url(#pd8968b9efc)" style="fill: none; stroke: #1f77b4; stroke-opacity: 0.3; stroke-width: 1.5; stroke-linecap: square"/>
   </g>
   <g id="line2d_60">
    <path d="M 57.6 172.8 
L 64.602353 165.96 
L 71.604706 170.1 
L 78.607059 176.4 
L 85.609412 179.1 
L 92.611765 168.3 
L 99.614118 195.3 
L 106.616471 183.24 
L 113.618824 174.24 
L 120.621176 211.5 
L 127.623529 189.9 
L 134.625882 167.4 
L 141.628235 183.6 
L 148.630588 174.6 
L 155.632941 200.7 
L 162.635294 207 
L 169.637647 178.2 
L 176.64 191.34 
L 183.642353 229.572 
L 190.644706 166.86 
L 197.647059 178.2 
L 204.649412 126 
L 211.651765 102.798 
L 218.654118 187.2 
L 225.656471 180 
L 232.658824 143.64 
L 239.661176 277.992 
L 246.663529 99.648 
L 253.665882 277.92 
L 260.668235 295.272 
L 267.670588 212.4 
L 274.672941 149.04 
L 281.675294 289.422 
L 288.677647 143.64 
L 295.68 183.6 
L 302.682353 151.2 
L 309.684706 143.1 
L 316.687059 185.76 
L 323.689412 142.02 
L 330.691765 60.858 
L 337.694118 162 
L 344.696471 162.72 
L 351.698824 82.368 
L 358.701176 245.952 
L 365.703529 185.4 
L 372.705882 147.96 
L 379.708235 162.36 
L 386.710588 216 
L 393.712941 130.14 
L 400.715294 185.04 
L 407.717647 202.68 
L 414.72 154.8 
" clip-path="url(#pd8968b9efc)" style="fill: none; stroke: #1f77b4; stroke-opacity: 0.3; stroke-width: 1.5; stroke-linecap: square"/>
   </g>
   <g id="line2d_61">
    <path d="M 57.6 192.6 
L 64.602353 161.1 
L 71.604706 185.4 
L 78.607059 167.4 
L 85.609412 155.16 
L 92.611765 201.6 
L 99.614118 153.36 
L 106.616471 169.56 
L 113.618824 153 
L 120.621176 181.8 
L 127.623529 178.2 
L 134.625882 167.4 
L 141.628235 156.24 
L 148.630588 161.1 
L 155.632941 138.6 
L 162.635294 176.4 
L 169.637647 159.3 
L 176.64 144 
L 183.642353 184.5 
L 190.644706 143.1 
L 197.647059 178.2 
L 204.649412 165.96 
L 211.651765 188.64 
L 218.654118 216 
L 225.656471 140.616 
L 232.658824 174.24 
L 239.661176 165.6 
L 246.663529 198 
L 253.665882 165.6 
L 260.668235 176.4 
L 267.670588 153.72 
L 274.672941 166.32 
L 281.675294 167.76 
L 288.677647 140.76 
L 295.68 176.4 
L 302.682353 181.8 
L 309.684706 154.8 
L 316.687059 215.28 
L 323.689412 186.48 
L 330.691765 187.2 
L 337.694118 186.12 
L 344.696471 203.76 
L 351.698824 187.92 
L 358.701176 176.4 
L 365.703529 190.8 
L 372.705882 154.8 
L 379.708235 172.8 
L 386.710588 183.24 
L 393.712941 165.6 
L 400.715294 183.96 
L 407.717647 153 
L 414.72 145.44 
" clip-path="url(#pd8968b9efc)" style="fill: none; stroke: #1f77b4; stroke-opacity: 0.3; stroke-width: 1.5; stroke-linecap: square"/>
   </g>
   <g id="line2d_62">
    <path d="M 57.6 174.6 
L 64.602353 178.2 
L 71.604706 172.8 
L 78.607059 176.4 
L 85.609412 169.2 
L 92.611765 174.24 
L 99.614118 182.7 
L 106.616471 180 
L 113.618824 174.24 
L 120.621176 169.2 
L 127.623529 172.8 
L 134.625882 176.4 
L 141.628235 172.8 
L 148.630588 176.4 
L 155.632941 169.2 
L 162.635294 165.6 
L 169.637647 179.1 
L 176.64 156.6 
L 183.642353 172.8 
L 190.644706 177.84 
L 197.647059 124.2 
L 204.649412 191.88 
L 211.651765 212.4 
L 218.654118 128.34 
L 225.656471 196.02 
L 232.658824 164.16 
L 239.661176 165.6 
L 246.663529 187.2 
L 253.665882 165.6 
L 260.668235 171 
L 267.670588 176.4 
L 274.672941 216 
L 281.675294 192.96 
L 288.677647 158.4 
L 295.68 169.2 
L 302.682353 188.28 
L 309.684706 213.48 
L 316.687059 165.6 
L 323.689412 153 
L 330.691765 174.24 
L 337.694118 171.36 
L 344.696471 173.52 
L 351.698824 196.02 
L 358.701176 171 
L 365.703529 172.8 
L 372.705882 147.96 
L 379.708235 162.36 
L 386.710588 181.8 
L 393.712941 167.76 
L 400.715294 183.24 
L 407.717647 172.44 
L 414.72 169.2 
" clip-path="url(#pd8968b9efc)" style="fill: none; stroke: #1f77b4; stroke-opacity: 0.3; stroke-width: 1.5; stroke-linecap: square"/>
   </g>
   <g id="line2d_63">
    <path d="M 57.6 175.306096 
L 64.602353 172.823941 
L 71.604706 174.429773 
L 78.607059 173.897404 
L 85.609412 173.959569 
L 92.611765 174.087578 
L 99.614118 173.113207 
L 106.616471 174.078757 
L 113.618824 173.736785 
L 120.621176 175.99842 
L 127.623529 174.325925 
L 134.625882 174.013579 
L 141.628235 174.052105 
L 148.630588 173.843255 
L 155.632941 173.634219 
L 162.635294 173.992967 
L 169.637647 174.464251 
L 176.64 174.075181 
L 183.642353 174.72119 
L 190.644706 174.096107 
L 197.647059 174.2171 
L 204.649412 175.038743 
L 211.651765 174.498357 
L 218.654118 173.931176 
L 225.656471 174.105267 
L 232.658824 174.495884 
L 239.661176 175.248948 
L 246.663529 174.058405 
L 253.665882 174.072478 
L 260.668235 174.745249 
L 267.670588 173.725312 
L 274.672941 174.046471 
L 281.675294 174.680571 
L 288.677647 174.517389 
L 295.68 174.253419 
L 302.682353 174.565856 
L 309.684706 172.676792 
L 316.687059 174.755506 
L 323.689412 173.685792 
L 330.691765 173.302945 
L 337.694118 174.353281 
L 344.696471 174.582294 
L 351.698824 173.963826 
L 358.701176 173.622741 
L 365.703529 174.218107 
L 372.705882 174.175516 
L 379.708235 174.963023 
L 386.710588 174.6076 
L 393.712941 174.30866 
L 400.715294 174.804282 
L 407.717647 174.093018 
L 414.72 173.704014 
" clip-path="url(#pd8968b9efc)" style="fill: none; stroke: #1f77b4; stroke-opacity: 0.3; stroke-width: 1.5; stroke-linecap: square"/>
   </g>
   <g id="line2d_64">
    <path d="M 57.6 174.729652 
L 64.602353 174.728285 
L 71.604706 174.010654 
L 78.607059 173.499472 
L 85.609412 174.410239 
L 92.611765 171.959495 
L 99.614118 174.825112 
L 106.616471 174.646231 
L 113.618824 172.729029 
L 120.621176 174.259218 
L 127.623529 173.33631 
L 134.625882 174.885499 
L 141.628235 172.373249 
L 148.630588 173.380955 
L 155.632941 174.842622 
L 162.635294 175.244761 
L 169.637647 172.261795 
L 176.64 173.755764 
L 183.642353 174.499218 
L 190.644706 173.655705 
L 197.647059 175.635576 
L 204.649412 173.131896 
L 211.651765 174.523079 
L 218.654118 173.260435 
L 225.656471 175.469367 
L 232.658824 174.184514 
L 239.661176 173.868974 
L 246.663529 172.657634 
L 253.665882 175.717643 
L 260.668235 174.881501 
L 267.670588 174.882207 
L 274.672941 175.228093 
L 281.675294 174.518304 
L 288.677647 173.628678 
L 295.68 173.483783 
L 302.682353 173.48382 
L 309.684706 175.437065 
L 316.687059 172.889657 
L 323.689412 173.667267 
L 330.691765 173.91488 
L 337.694118 174.406157 
L 344.696471 174.721814 
L 351.698824 173.079813 
L 358.701176 172.646988 
L 365.703529 174.200027 
L 372.705882 175.296207 
L 379.708235 174.885352 
L 386.710588 174.398086 
L 393.712941 173.91856 
L 400.715294 174.46791 
L 407.717647 173.984998 
L 414.72 174.939486 
" clip-path="url(#pd8968b9efc)" style="fill: none; stroke: #1f77b4; stroke-opacity: 0.3; stroke-width: 1.5; stroke-linecap: square"/>
   </g>
   <g id="line2d_65">
    <path d="M 57.6 173.202996 
L 64.602353 174.373142 
L 71.604706 174.064417 
L 78.607059 174.888633 
L 85.609412 174.487045 
L 92.611765 177.417044 
L 99.614118 176.092305 
L 106.616471 176.089889 
L 113.618824 171.634225 
L 120.621176 173.775201 
L 127.623529 173.437151 
L 134.625882 174.875229 
L 141.628235 171.332427 
L 148.630588 175.683868 
L 155.632941 175.548399 
L 162.635294 172.563391 
L 169.637647 172.971029 
L 176.64 173.194523 
L 183.642353 174.258553 
L 190.644706 175.011624 
L 197.647059 176.784336 
L 204.649412 173.955219 
L 211.651765 175.171053 
L 218.654118 174.399826 
L 225.656471 176.421507 
L 232.658824 175.139119 
L 239.661176 175.928374 
L 246.663529 172.846129 
L 253.665882 173.961777 
L 260.668235 173.178647 
L 267.670588 176.100234 
L 274.672941 175.032626 
L 281.675294 173.819518 
L 288.677647 173.63389 
L 295.68 174.814678 
L 302.682353 173.320116 
L 309.684706 173.031458 
L 316.687059 174.810406 
L 323.689412 177.307546 
L 330.691765 173.893872 
L 337.694118 173.503609 
L 344.696471 172.728342 
L 351.698824 172.521886 
L 358.701176 174.865479 
L 365.703529 175.276012 
L 372.705882 174.21556 
L 379.708235 174.623046 
L 386.710588 174.350055 
L 393.712941 174.378705 
L 400.715294 172.28104 
L 407.717647 173.626771 
L 414.72 174.344464 
" clip-path="url(#pd8968b9efc)" style="fill: none; stroke: #1f77b4; stroke-opacity: 0.3; stroke-width: 1.5; stroke-linecap: square"/>
   </g>
   <g id="line2d_66">
    <path d="M 57.6 169.129079 
L 64.602353 171.116735 
L 71.604706 168.896101 
L 78.607059 172.042942 
L 85.609412 179.732142 
L 92.611765 171.569359 
L 99.614118 173.206918 
L 106.616471 179.476895 
L 113.618824 178.382111 
L 120.621176 185.188945 
L 127.623529 160.657657 
L 134.625882 179.756446 
L 141.628235 171.078799 
L 148.630588 175.076803 
L 155.632941 179.632422 
L 162.635294 181.22348 
L 169.637647 180.938992 
L 176.64 175.209091 
L 183.642353 184.634614 
L 190.644706 172.370327 
L 197.647059 173.290437 
L 204.649412 179.383796 
L 211.651765 170.631107 
L 218.654118 188.206673 
L 225.656471 180.808459 
L 232.658824 188.301728 
L 239.661176 174.031702 
L 246.663529 171.721586 
L 253.665882 175.286471 
L 260.668235 178.964056 
L 267.670588 170.397469 
L 274.672941 176.664467 
L 281.675294 174.095108 
L 288.677647 184.673618 
L 295.68 169.909692 
L 302.682353 180.983128 
L 309.684706 170.031764 
L 316.687059 167.97909 
L 323.689412 169.60126 
L 330.691765 166.491596 
L 337.694118 175.15235 
L 344.696471 180.88657 
L 351.698824 175.26876 
L 358.701176 178.249627 
L 365.703529 184.780489 
L 372.705882 175.953771 
L 379.708235 175.468652 
L 386.710588 172.421602 
L 393.712941 163.78259 
L 400.715294 179.127108 
L 407.717647 162.822136 
L 414.72 178.433343 
" clip-path="url(#pd8968b9efc)" style="fill: none; stroke: #1f77b4; stroke-opacity: 0.3; stroke-width: 1.5; stroke-linecap: square"/>
   </g>
   <g id="line2d_67">
    <path d="M 57.6 174.121515 
L 64.602353 180.694261 
L 71.604706 173.813643 
L 78.607059 169.462367 
L 85.609412 176.265563 
L 92.611765 170.97704 
L 99.614118 173.161689 
L 106.616471 174.445176 
L 113.618824 173.428994 
L 120.621176 173.116499 
L 127.623529 169.409117 
L 134.625882 173.114589 
L 141.628235 161.887158 
L 148.630588 173.297767 
L 155.632941 167.303198 
L 162.635294 180.656719 
L 169.637647 181.518778 
L 176.64 162.966092 
L 183.642353 175.038721 
L 190.644706 173.476144 
L 197.647059 168.174918 
L 204.649412 177.266322 
L 211.651765 171.544668 
L 218.654118 164.022629 
L 225.656471 172.667942 
L 232.658824 173.350062 
L 239.661176 174.817043 
L 246.663529 167.112098 
L 253.665882 177.750322 
L 260.668235 178.440233 
L 267.670588 167.604035 
L 274.672941 170.408992 
L 281.675294 173.741257 
L 288.677647 170.94427 
L 295.68 184.248027 
L 302.682353 175.404223 
L 309.684706 168.383047 
L 316.687059 169.664493 
L 323.689412 173.872971 
L 330.691765 187.427686 
L 337.694118 173.177198 
L 344.696471 174.938264 
L 351.698824 177.164901 
L 358.701176 173.972875 
L 365.703529 187.340607 
L 372.705882 171.142416 
L 379.708235 178.49061 
L 386.710588 175.128123 
L 393.712941 177.782091 
L 400.715294 167.426537 
L 407.717647 184.388329 
L 414.72 173.504002 
" clip-path="url(#pd8968b9efc)" style="fill: none; stroke: #1f77b4; stroke-opacity: 0.3; stroke-width: 1.5; stroke-linecap: square"/>
   </g>
   <g id="patch_3">
    <path d="M 57.6 307.584 
L 57.6 41.472 
" style="fill: none; stroke: #000000; stroke-width: 0.8; stroke-linejoin: miter; stroke-linecap: square"/>
   </g>
   <g id="patch_4">
    <path d="M 414.72 307.584 
L 414.72 41.472 
" style="fill: none; stroke: #000000; stroke-width: 0.8; stroke-linejoin: miter; stroke-linecap: square"/>
   </g>
   <g id="patch_5">
    <path d="M 57.6 307.584 
L 414.72 307.584 
" style="fill: none; stroke: #000000; stroke-width: 0.8; stroke-linejoin: miter; stroke-linecap: square"/>
   </g>
   <g id="patch_6">
    <path d="M 57.6 41.472 
L 414.72 41.472 
" style="fill: none; stroke: #000000; stroke-width: 0.8; stroke-linejoin: miter; stroke-linecap: square"/>
   </g>
  </g>
 </g>
 <defs>
  <clipPath id="pd8968b9efc">
   <rect x="57.6" y="41.472" width="357.12" height="266.112"/>
  </clipPath>
 </defs>
</svg>

</body></html>
